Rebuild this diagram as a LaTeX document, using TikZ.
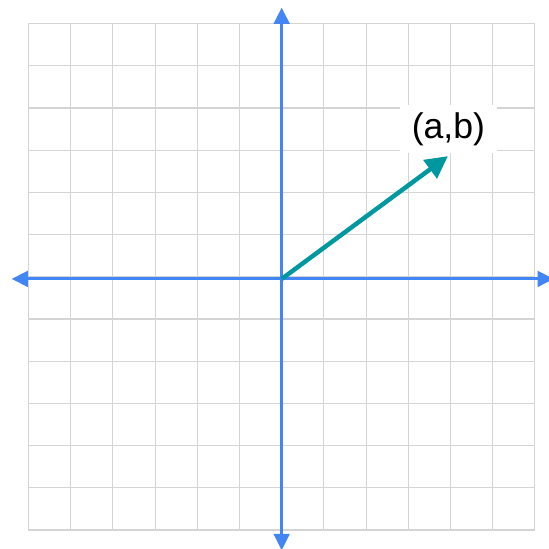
\documentclass[tikz,border=0pt]{standalone}
\usepackage{fontspec}
\setmainfont{Liberation Sans}
\usetikzlibrary{arrows.meta}
\definecolor{axblue}{RGB}{66,133,244}
\definecolor{vecteal}{RGB}{0,152,160}
\definecolor{gridgray}{RGB}{212,212,212}

\begin{document}
\begin{tikzpicture}[
  gr/.style={draw=gridgray,line width=0.75pt},
  ax/.style={draw=axblue,line width=2pt,{Triangle[length=11pt,width=10.5pt]}-{Triangle[length=11pt,width=10.5pt]}},
  vc/.style={draw=vecteal,line width=3pt,-{Triangle[length=15pt,width=15pt]}},
  lb/.style={fill=white,inner sep=0pt,minimum width=2.3cm,minimum height=1.14cm,font=\fontsize{24}{28}\selectfont}]
  \useasboundingbox (-0.675,-0.45) rectangle (12.335,12.56);
  \draw[gr] (0,0) grid (12,12);
  % axes
  \coordinate (xl) at (-0.4,5.95);
  \coordinate (xr) at (12.45,5.95);
  \coordinate (yb) at (6,-0.48);
  \coordinate (yt) at (6,12.38);
  \draw[ax] (xl) -- (xr);
  \draw[ax] (yb) -- (yt);
  % vector
  \coordinate (o) at (6,5.95);
  \coordinate (p) at (9.94,8.86);
  \node[lb] (ab) at (9.95,9.5) {(a,b)};
  \draw[vc] (o) -- (p);
\end{tikzpicture}
\end{document}
